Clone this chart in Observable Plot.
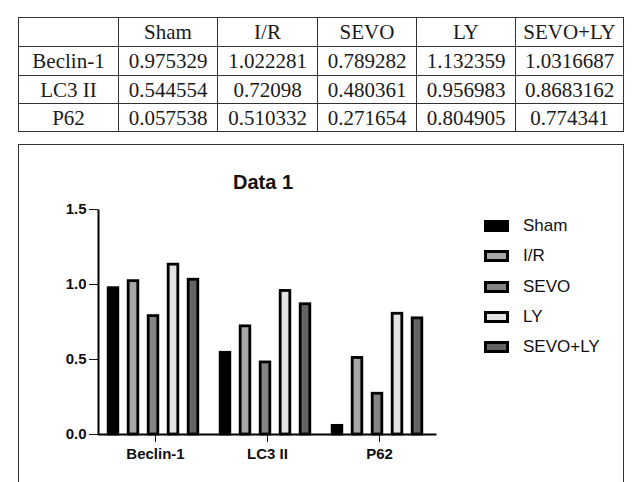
<!DOCTYPE html>
<html>
<head>
<meta charset="utf-8">
<script src="https://cdn.jsdelivr.net/npm/d3@7"></script>
<script src="https://cdn.jsdelivr.net/npm/@observablehq/plot@0.6"></script>
<style>
  html, body { margin: 0; padding: 0; background: #fff; }
  #page { position: relative; width: 640px; height: 482px; overflow: hidden; background: #fff; }
  table.data {
    position: absolute; left: 18px; top: 17px;
    border-collapse: collapse; table-layout: fixed;
    font-family: "Liberation Serif", "Times New Roman", serif; font-size: 21px; color: #1a1a1a;
  }
  table.data td { border: 1.5px solid #333; text-align: center; padding: 0; line-height: 20px; white-space: nowrap; }
  #frame { position: absolute; left: 18px; top: 144px; width: 604px; height: 400px; border: 1.5px solid #333; }
  #title { position: absolute; left: 163px; top: 172px; width: 200px; text-align: center;
    font-family: "Liberation Sans", Arial, sans-serif; font-weight: bold; font-size: 20px; line-height: 20px; color: #111; }
  #chart { position: absolute; left: 0; top: 144px; }
  #legend { position: absolute; left: 484px; top: 211px; font-family: "Liberation Sans", Arial, sans-serif; font-size: 17px; color: #111; }
  #legend .row { display: flex; align-items: center; height: 30.3px; }
  #legend .sw { width: 19px; height: 6px; border: 3px solid #000; margin-right: 14px; }
</style>
</head>
<body>
<div id="page">
  <table class="data" id="tbl"></table>
  <div id="frame"></div>
  <div id="title">Data 1</div>
  <div id="chart"></div>
  <div id="legend"></div>
</div>
<script>
const categories = ["Beclin-1", "LC3 II", "P62"];
const series = ["Sham", "I/R", "SEVO", "LY", "SEVO+LY"];
const beclin1 = [0.975329, 1.022281, 0.789282, 1.132359, 1.0316687];
const lc3ii = [0.544554, 0.72098, 0.480361, 0.956983, 0.8683162];
const p62 = [0.057538, 0.510332, 0.271654, 0.804905, 0.774341];
const yTicks = [0, 0.5, 1.0, 1.5];
const fills = ["#000000", "#a6a6a6", "#858585", "#e2e2e2", "#646464"];

const valuesByCat = [beclin1, lc3ii, p62];
const rows = [];
categories.forEach((c, ci) => series.forEach((s, si) => rows.push({cat: c, series: s, value: valuesByCat[ci][si]})));

// Table
const colW = [100, 99, 100, 99, 99, 108];
const rowH = [29, 29, 28, 28];
const tbl = document.getElementById("tbl");
const cg = document.createElement("colgroup");
colW.forEach(w => { const c = document.createElement("col"); c.style.width = w + "px"; cg.appendChild(c); });
tbl.appendChild(cg);
const tbody = document.createElement("tbody");
const hdr = document.createElement("tr");
hdr.style.height = rowH[0] + "px";
["", ...series].forEach(t => { const td = document.createElement("td"); td.textContent = t; hdr.appendChild(td); });
tbody.appendChild(hdr);
categories.forEach((c, ci) => {
  const tr = document.createElement("tr");
  tr.style.height = rowH[ci + 1] + "px";
  [c, ...valuesByCat[ci].map(v => String(v))].forEach(t => { const td = document.createElement("td"); td.textContent = t; tr.appendChild(td); });
  tbody.appendChild(tr);
});
tbl.appendChild(tbody);

// Chart
const W = 640, H = 338, mL = 98, mR = 204, mT = 65, mB = 48;
const fw = W - mL - mR, fh = H - mT - mB;
const bw = fw / categories.length;
const barW = 10.3, step = 20, shift = -2;
const inset = (bw - barW) / 2;

const marks = series.map((s, i) => Plot.barY(rows.filter(d => d.series === s), {
  x: "cat", y: "value", fill: fills[i], stroke: "#000", strokeWidth: 2.8,
  insetLeft: inset, insetRight: inset, dx: (i - (series.length - 1) / 2) * step + shift
}));
marks.push(Plot.frame({stroke: "#000", strokeWidth: 2, strokeDasharray: `0 ${fw + fh} ${fw + fh}`}));

const chart = Plot.plot({
  width: W, height: H,
  marginLeft: mL, marginRight: mR, marginTop: mT, marginBottom: mB,
  style: {background: "none", fontFamily: "'Liberation Sans', Arial, sans-serif", fontSize: "15px", fontWeight: "bold", color: "#111", overflow: "visible"},
  x: {domain: categories, padding: 0, tickSize: 8, tickPadding: 6, label: null},
  y: {domain: [0, 1.5], ticks: yTicks, tickFormat: d3.format(".1f"), tickSize: 9, tickPadding: 3, label: null},
  marks
});
document.getElementById("chart").appendChild(chart);

// Legend
const lg = document.getElementById("legend");
series.forEach((s, i) => {
  const r = document.createElement("div"); r.className = "row";
  const sw = document.createElement("div"); sw.className = "sw"; sw.style.background = fills[i];
  const t = document.createElement("span"); t.textContent = s;
  r.appendChild(sw); r.appendChild(t); lg.appendChild(r);
});
</script>
</body>
</html>
